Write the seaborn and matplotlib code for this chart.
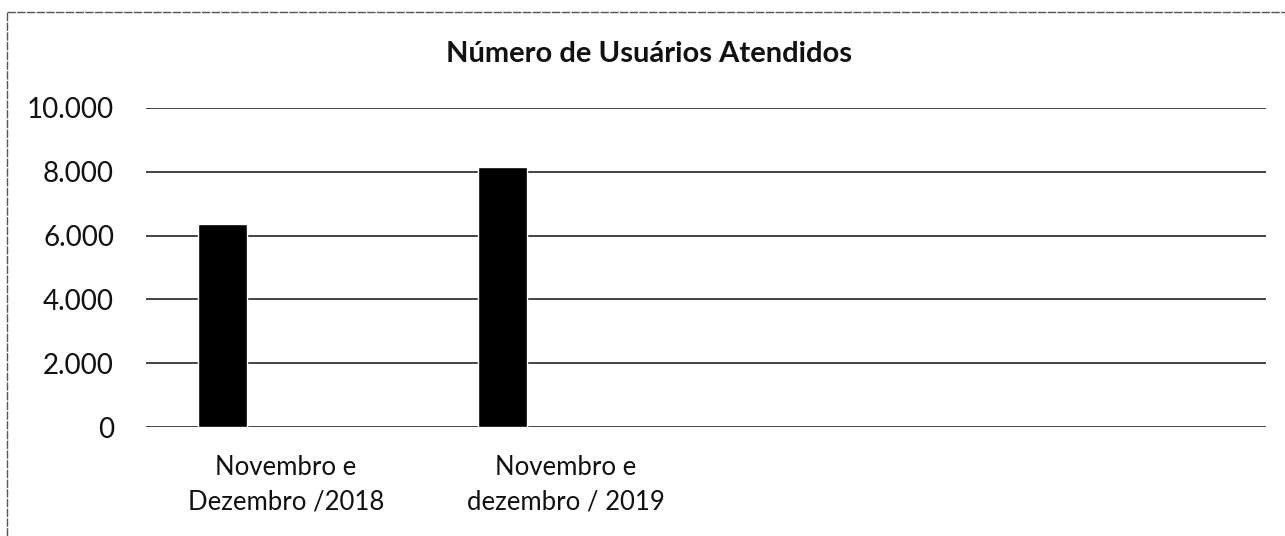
import matplotlib
matplotlib.use("Agg")
import matplotlib.pyplot as plt
from matplotlib.lines import Line2D
from matplotlib.ticker import FuncFormatter
import seaborn as sns
import pandas as pd

# ---- data ----
categories = ["Novembro e\nDezembro /2018", "Novembro e\ndezembro / 2019", "", " "]
series_names = ["Série 1", "Série 2", "Série 3"]
values = [6360, 8150]
yticks = [0, 2000, 4000, 6000, 8000, 10000]
title = "Número de Usuários Atendidos"

df = pd.DataFrame({
    "periodo": categories[:len(values)],
    "serie": [series_names[0]] * len(values),
    "usuarios": values,
})

sns.set_theme(style="white")
plt.rcParams["font.family"] = ["Lato", "DejaVu Sans"]

fig = plt.figure(figsize=(12.85, 5.36), dpi=100)
ax = fig.add_axes([146 / 1285, 1 - 427 / 536, (1266 - 146) / 1285, (427 - 108) / 536])

sns.barplot(data=df, x="periodo", y="usuarios", hue="serie",
            order=categories, hue_order=series_names,
            palette=["#000000", "#000000", "#000000"],
            width=0.68, gap=0.23, dodge=True, legend=False,
            saturation=1, ax=ax, errorbar=None)

ax.set_ylim(0, 10000)
ax.set_xlim(-0.5, len(categories) - 0.5)
ax.set_yticks(yticks)
ax.yaxis.set_major_formatter(FuncFormatter(lambda v, p: f"{int(v):,}".replace(",", ".")))
ax.grid(axis="y", color="#111111", linewidth=1.1)
ax.set_axisbelow(True)
for s in ax.spines.values():
    s.set_visible(False)
ax.set_xlabel("")
ax.set_ylabel("")
ax.tick_params(axis="y", labelsize=20, pad=23, length=0, colors="#111111")
ax.tick_params(axis="x", labelsize=18.5, pad=20, length=0, colors="#111111")
for lab in ax.get_xticklabels():
    lab.set_linespacing(1.5)

fig.text(649 / 1285, 1 - 54 / 536, title, ha="center", va="center",
         fontsize=21, fontweight="bold", color="#111111")

# scanned frame (top and left edges)
fig.add_artist(Line2D([7 / 1285, 1], [1 - 12 / 536, 1 - 12 / 536], transform=fig.transFigure,
                      color="#555555", linewidth=1, linestyle=(0, (6, 1))))
fig.add_artist(Line2D([7 / 1285, 7 / 1285], [0, 1 - 12 / 536], transform=fig.transFigure,
                      color="#555555", linewidth=1, linestyle=(0, (6, 1))))

fig.savefig("out.png", dpi=100, facecolor="white")
